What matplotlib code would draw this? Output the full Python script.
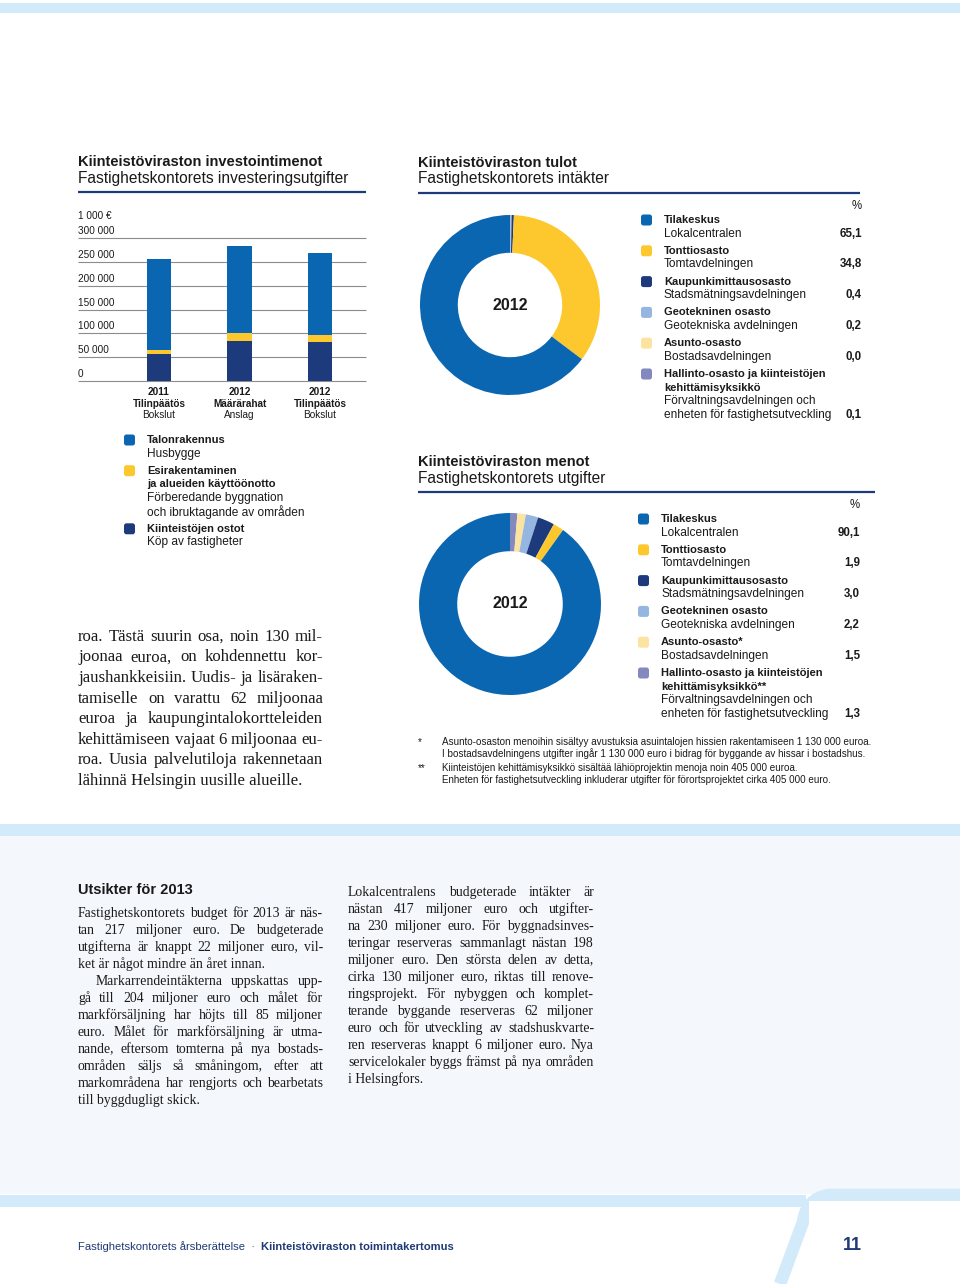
import numpy as np
import matplotlib
matplotlib.use("Agg")
import matplotlib.pyplot as plt
from matplotlib.patches import FancyBboxPatch, Rectangle, PathPatch
from matplotlib.path import Path

W, H = 960, 1284
SANS = "Liberation Sans"
SERIF = "Liberation Serif"

# --- investment bars (1 000 EUR) ---
years = ["2011", "2012", "2012"]
stage_fi = ["Tilinpäätös", "Määrärahat", "Tilinpäätös"]
stage_sv = ["Bokslut", "Anslag", "Bokslut"]
purchases = [57000, 84000, 82000]
site_prep = [9000, 17500, 14500]
building = [190000, 181500, 172500]
bar_ticks = [0, 50000, 100000, 150000, 200000, 250000, 300000]
bar_tick_labels = ["0", "50 000", "100 000", "150 000", "200 000", "250 000", "300 000"]

invest_fi = ["Talonrakennus", "Esirakentaminen\nja alueiden käyttöönotto", "Kiinteistöjen ostot"]
invest_sv = ["Husbygge", "Förberedande byggnation\noch ibruktagande av områden", "Köp av fastigheter"]

# --- income / expense donuts (%) ---
units_fi = ["Tilakeskus", "Tonttiosasto", "Kaupunkimittausosasto", "Geotekninen osasto",
            "Asunto-osasto", "Hallinto-osasto ja kiinteistöjen\nkehittämisyksikkö"]
units_sv = ["Lokalcentralen", "Tomtavdelningen", "Stadsmätningsavdelningen",
            "Geotekniska avdelningen", "Bostadsavdelningen",
            "Förvaltningsavdelningen och\nenheten för fastighetsutveckling"]
income_pct = [65.1, 34.8, 0.4, 0.2, 0.0, 0.1]
expense_pct = [90.1, 1.9, 3.0, 2.2, 1.5, 1.3]
expense_marks = ["", "", "", "", "*", "**"]

BLUE, YELLOW, NAVY = "#0b66b2", "#fdc82e", "#1c3a7c"
unit_colors = [BLUE, YELLOW, NAVY, "#94b6e0", "#fde3a0", "#8388bf"]
invest_colors = [BLUE, YELLOW, NAVY]
TXT = "#1a1a1a"
PALE = "#d2eafa"

footnotes = [
    ("*", ["Asunto-osaston menoihin sisältyy avustuksia asuintalojen hissien rakentamiseen 1 130 000 euroa.",
           "I bostadsavdelningens utgifter ingår 1 130 000 euro i bidrag för byggande av hissar i bostadshus."]),
    ("**", ["Kiinteistöjen kehittämisyksikkö sisältää lähiöprojektin menoja noin 405 000 euroa.",
            "Enheten för fastighetsutveckling inkluderar utgifter för förortsprojektet cirka 405 000 euro."]),
]

body_fi = [
    "roa. Tästä suurin osa, noin 130 mil-",
    "joonaa euroa, on kohdennettu kor-",
    "jaushankkeisiin. Uudis- ja lisäraken-",
    "tamiselle on varattu 62 miljoonaa",
    "euroa ja kaupungintalokortteleiden",
    "kehittämiseen vajaat 6 miljoonaa eu-",
    "roa. Uusia palvelutiloja rakennetaan",
    "lähinnä Helsingin uusille alueille.",
]
outlook_left = [
    "Fastighetskontorets budget för 2013 är näs-",
    "tan 217 miljoner euro. De budgeterade",
    "utgifterna är knappt 22 miljoner euro, vil-",
    "ket är något mindre än året innan.",
    "Markarrendeintäkterna uppskattas upp-",
    "gå till 204 miljoner euro och målet för",
    "markförsäljning har höjts till 85 miljoner",
    "euro. Målet för markförsäljning är utma-",
    "nande, eftersom tomterna på nya bostads-",
    "områden säljs så småningom, efter att",
    "markområdena har rengjorts och bearbetats",
    "till byggdugligt skick.",
]
outlook_right = [
    "Lokalcentralens budgeterade intäkter är",
    "nästan 417 miljoner euro och utgifter-",
    "na 230 miljoner euro. För byggnadsinves-",
    "teringar reserveras sammanlagt nästan 198",
    "miljoner euro. Den största delen av detta,",
    "cirka 130 miljoner euro, riktas till renove-",
    "ringsprojekt. För nybyggen och komplet-",
    "terande byggande reserveras 62 miljoner",
    "euro och för utveckling av stadshuskvarte-",
    "ren reserveras knappt 6 miljoner euro. Nya",
    "servicelokaler byggs främst på nya områden",
    "i Helsingfors.",
]


def px_axes(fig, x0, y0, x1, y1):
    """axes placed by page pixels (y downwards)"""
    return fig.add_axes([x0 / W, 1 - y1 / H, (x1 - x0) / W, (y1 - y0) / H])


def justified(ax, rend, lines, x0, x1, y0, step, size, ends=(), indents=None):
    # y0 is the visual middle of the first line; words sit on a common baseline
    indents = indents or {}
    shift = 0.34 * size * 100 / 72
    for i, line in enumerate(lines):
        y = y0 + i * step + shift
        xs = x0 + indents.get(i, 0)
        words = line.split(" ")
        kw = dict(fontsize=size, family=SERIF, color=TXT, va="baseline")
        if i in ends or len(words) == 1:
            ax.text(xs, y, line, **kw)
            continue
        texts = [ax.text(0, y, w, **kw) for w in words]
        widths = [t.get_window_extent(rend).width for t in texts]
        gap = (x1 - xs - sum(widths)) / (len(words) - 1)
        x = xs
        for t, w in zip(texts, widths):
            t.set_x(x)
            x += w + gap


def swatch(ax, x, y, color, s=11):
    ax.add_patch(FancyBboxPatch((x, y - s / 2), s, s, boxstyle="round,pad=0,rounding_size=2.5",
                                fc=color, ec="none"))


def unit_legend(ax, y0, x_sq, x_txt, x_val, pct, marks):
    ax.text(x_val, y0 - 14, "%", fontsize=8.3, family=SANS, ha="right", va="center", color=TXT)
    y = y0
    for fi, sv, v, m, c in zip(units_fi, units_sv, pct, marks, unit_colors):
        swatch(ax, x_sq, y, c)
        fi_lines = fi.split("\n")
        fi_lines[-1] += m
        for ln in fi_lines:
            ax.text(x_txt, y, ln, fontsize=8, family=SANS, weight="bold", va="center", color=TXT)
            y += 13.6
        for ln in sv.split("\n"):
            ax.text(x_txt, y, ln, fontsize=8.6, family=SANS, va="center", color=TXT)
            y += 13.6
        ax.text(x_val, y - 13.6, f"{v:.1f}".replace(".", ","), fontsize=8.3, family=SANS,
                weight="bold", ha="right", va="center", color=TXT)
        y += 3.6


def title_block(ax, x, y, fi, sv, x_end):
    ax.text(x, y, fi, fontsize=10.5, family=SANS, weight="bold", va="center", color=TXT)
    ax.text(x, y + 16, sv, fontsize=11.2, family=SANS, va="center", color=TXT)
    ax.plot([x, x_end], [y + 30, y + 30], color=NAVY, lw=1.6, solid_capstyle="butt")


def donut(fig, cx, cy, r, pct):
    ax = px_axes(fig, cx - r * 1.05, cy - r * 1.05, cx + r * 1.05, cy + r * 1.05)
    ax.pie(pct[::-1], colors=unit_colors[::-1], startangle=90, counterclock=False,
           radius=1, wedgeprops=dict(width=0.42, edgecolor="none"))
    ax.set_xlim(-1.05, 1.05)
    ax.set_ylim(-1.05, 1.05)
    ax.text(0, 0, "2012", fontsize=11.5, family=SANS, weight="bold", ha="center", va="center", color=TXT)
    ax.patch.set_visible(False)


fig = plt.figure(figsize=(W / 100, H / 100), dpi=100)
page = fig.add_axes([0, 0, 1, 1])
page.set_xlim(0, W)
page.set_ylim(H, 0)
page.axis("off")
rend = fig.canvas.get_renderer()

# page decoration
page.add_patch(Rectangle((0, 3), W, 10, fc=PALE, ec="none"))
page.add_patch(Rectangle((0, 836), W, 358, fc="#f4f8fc", ec="none"))
page.add_patch(Rectangle((0, 824), W, 12, fc=PALE, ec="none"))
page.add_patch(Rectangle((0, 1195), 806, 12, fc=PALE, ec="none"))
tab = Path([(W, 1195), (828, 1195), (806, 1199), (803, 1222), (780, 1284)],
           [Path.MOVETO, Path.LINETO, Path.CURVE3, Path.CURVE3, Path.LINETO])
page.add_patch(PathPatch(tab, fc="none", ec=PALE, lw=9, capstyle="butt"))
page.add_patch(Rectangle((809, 1201), W - 809, 83, fc="white", ec="none"))

# --- investment chart ---
title_block(page, 78, 162, "Kiinteistöviraston investointimenot",
            "Fastighetskontorets investeringsutgifter", 366)
page.text(78, 216, "1 000 €", fontsize=7.2, family=SANS, va="center", color=TXT)

axb = px_axes(fig, 78, 238, 366, 381)
axb.patch.set_visible(False)
for s in axb.spines.values():
    s.set_visible(False)
x = np.arange(len(years))
axb.set_xlim(-1.006, 2.571)
axb.set_ylim(0, 300000)
axb.hlines(bar_ticks, 0, 1, transform=axb.get_yaxis_transform(), color="#8c8c8c", lw=0.8,
           clip_on=False, zorder=1)
for t, lab in zip(bar_ticks, bar_tick_labels):
    axb.annotate(lab, (0, t), xycoords=("axes fraction", "data"), xytext=(0, 2),
                 textcoords="offset pixels", fontsize=7.2, family=SANS, va="bottom", color=TXT)
bottom2 = np.array(purchases) + np.array(site_prep)
axb.bar(x, purchases, width=0.3, color=NAVY, zorder=2)
axb.bar(x, site_prep, width=0.3, bottom=purchases, color=YELLOW, zorder=2)
axb.bar(x, building, width=0.3, bottom=bottom2, color=BLUE, zorder=2)
axb.set_xticks([])
axb.set_yticks([])
for i in x:
    for txt, dy, wt in [(years[i], -11, "bold"), (stage_fi[i], -23, "bold"), (stage_sv[i], -34, "normal")]:
        axb.annotate(txt, (i, 0), xytext=(0, dy), textcoords="offset pixels", fontsize=7.2,
                     family=SANS, weight=wt, ha="center", va="center", color=TXT)

y = 440
for fi, sv, c in zip(invest_fi, invest_sv, invest_colors):
    swatch(page, 124, y, c)
    for ln in fi.split("\n"):
        page.text(147, y, ln, fontsize=8, family=SANS, weight="bold", va="center", color=TXT)
        y += 13.7
    for ln in sv.split("\n"):
        page.text(147, y, ln, fontsize=8.6, family=SANS, va="center", color=TXT)
        y += 13.7
    y += 3.3

justified(page, rend, body_fi, 78, 323, 635, 20.6, 12.1, ends=(7,))

# --- income ---
title_block(page, 418, 163, "Kiinteistöviraston tulot", "Fastighetskontorets intäkter", 860)
donut(fig, 510, 305, 90, income_pct)
unit_legend(page, 220, 641, 664, 862, income_pct, [""] * 6)

# --- expenses ---
title_block(page, 418, 462, "Kiinteistöviraston menot", "Fastighetskontorets utgifter", 875)
donut(fig, 510, 604, 91, expense_pct)
unit_legend(page, 519, 638, 661, 860, expense_pct, expense_marks)

y = 742
for mark, lines in footnotes:
    page.text(418, y, mark, fontsize=7.1, family=SANS, va="center", color=TXT)
    for ln in lines:
        page.text(442, y, ln, fontsize=7.1, family=SANS, va="center", color=TXT)
        y += 12
    y += 2

# --- outlook 2013 ---
page.text(78, 890, "Utsikter för 2013", fontsize=10.5, family=SANS, weight="bold", va="center", color=TXT)
justified(page, rend, outlook_left, 78, 323, 912, 17, 9.9, ends=(3, 11), indents={4: 18})
justified(page, rend, outlook_right, 348, 594, 891, 17, 9.9, ends=(11,))

# footer
ft = page.text(78, 1247, "Fastighetskontorets årsberättelse  ·  ", fontsize=8.1, family=SANS,
               va="center", color="#1f3a75")
w = ft.get_window_extent(rend).width
page.text(78 + w, 1247, "Kiinteistöviraston toimintakertomus", fontsize=8.1, family=SANS,
          weight="bold", va="center", color="#1f3a75")
page.text(862, 1245, "11", fontsize=13, family=SANS, weight="bold", ha="right", va="center",
          color="#1f3a75")

fig.savefig("out.png", dpi=100)
